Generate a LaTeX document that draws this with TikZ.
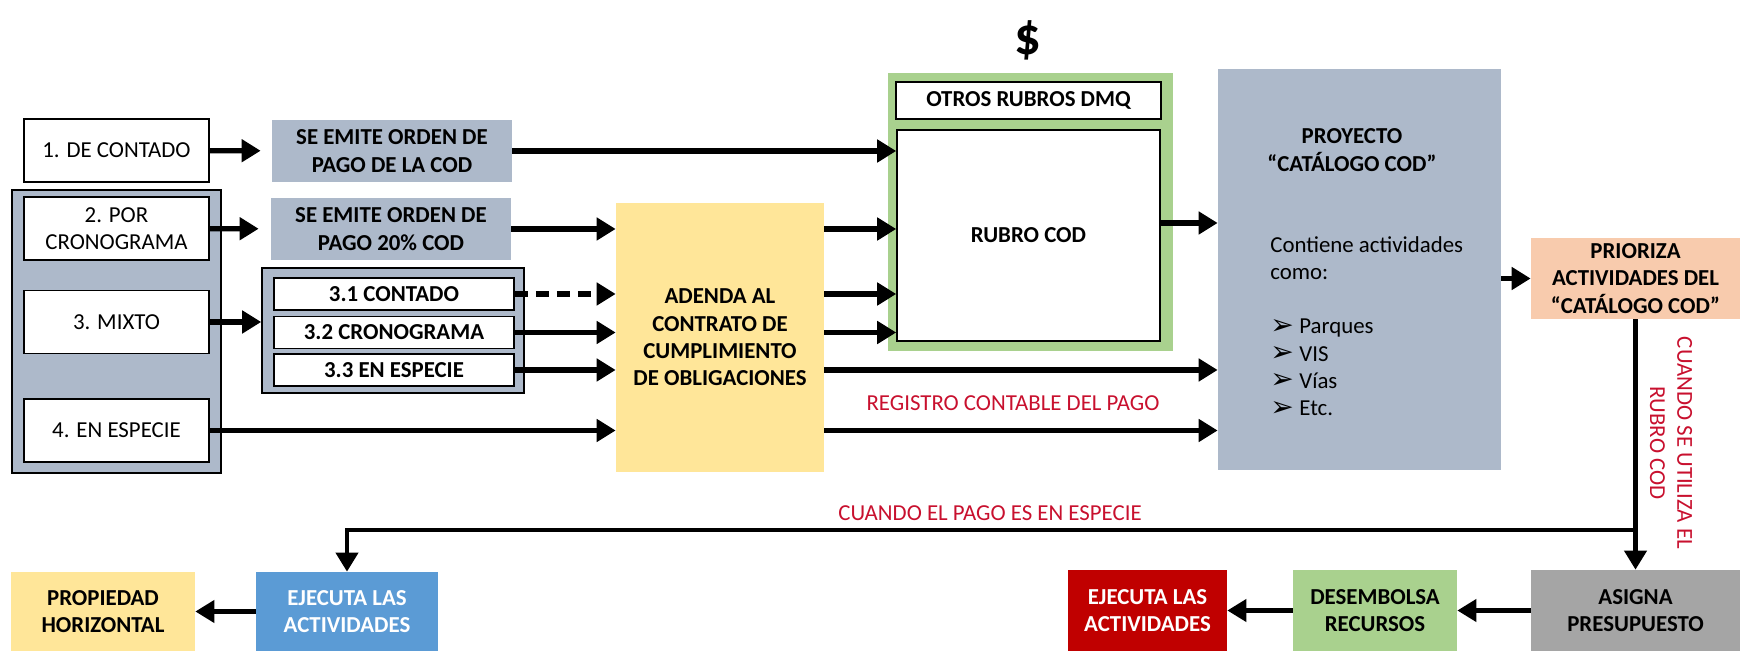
\documentclass[tikz,border=0pt]{standalone}
\usepackage{fontspec}
\setmainfont{Carlito}
\newfontfamily\symfont{DejaVu Sans}
\usepackage{xcolor}
\usepackage{tikz}
\usetikzlibrary{arrows.meta}

\definecolor{grisazul}{HTML}{ADB9CA}
\definecolor{amarillo}{HTML}{FFE699}
\definecolor{verde}{HTML}{A9D18E}
\definecolor{salmon}{HTML}{F8CBAD}
\definecolor{gris}{HTML}{A5A5A5}
\definecolor{rojo}{HTML}{C00000}
\definecolor{azul}{HTML}{5B9BD5}
\definecolor{rojotxt}{HTML}{C8102E}

\newcommand{\vineta}{\makebox[5.8mm][l]{\raisebox{-0.3pt}{\symfont\fontsize{16}{12}\selectfont ➢}}}

\begin{document}
\begin{tikzpicture}[x=0.2mm, y=-0.2mm,
        txt/.style={font=\fontsize{13}{15.5}\selectfont},
        negrita/.style={font=\fontsize{13}{15.5}\selectfont\bfseries},
        caja/.style={draw, line width=0.9pt, align=center, inner sep=0pt},
        tipo/.style={caja, txt, fill=white, minimum width=37mm, minimum height=12.6mm},
        parte/.style={caja, negrita, fill=white, minimum width=48mm, minimum height=6.4mm},
        fase/.style={negrita, align=center, inner sep=0pt},
        nota/.style={txt, text=rojotxt, align=center, inner sep=0pt},
        flow/.style={-{Triangle[length=3.8mm, width=4.4mm]}, line width=3pt},
        flujo/.style={flow, line width=2.4pt}
    ]
        \useasboundingbox (0,0) rectangle (1744,651);
        \node[caja, fill=grisazul, minimum width=41.8mm, minimum height=56.6mm] (tipos) at (116.5,331.5) {};
        \node[tipo] (contado) at (116.5,150.5) {1. DE CONTADO};
        \node[tipo] (crono) at (116.5,228.5) {2. POR\\CRONOGRAMA};
        \node[tipo] (mixto) at (116.5,322) {3. MIXTO};
        \node[tipo] (especie) at (116.5,430.5) {4. EN ESPECIE};
        \node[fase, fill=grisazul, minimum width=48mm, minimum height=12.4mm] (orden1) at (392,151)
            {SE EMITE ORDEN DE\\PAGO DE LA COD};
        \node[fase, fill=grisazul, minimum width=48mm, minimum height=12.4mm] (orden2) at (391,229)
            {SE EMITE ORDEN DE\\PAGO 20\% COD};
        \node[caja, fill=grisazul, minimum width=52.4mm, minimum height=25mm] (mixtos) at (393,330.5) {};
        \node[parte] (m1) at (394,294) {3.1 CONTADO};
        \node[parte] (m2) at (394,332.5) {3.2 CRONOGRAMA};
        \node[parte] (m3) at (394,370) {3.3 EN ESPECIE};
        \node[fase, fill=amarillo, minimum width=41.6mm, minimum height=53.8mm] (adenda) at (720,337.5)
            {ADENDA AL\\CONTRATO DE\\CUMPLIMIENTO\\DE OBLIGACIONES};
        \node[fill=verde, minimum width=57mm, minimum height=55.6mm] (marco) at (1030.5,212) {};
        \node[caja, negrita, fill=white, minimum width=53mm, minimum height=7.4mm] (otros) at (1028.5,100.5)
            {OTROS RUBROS DMQ};
        \node[caja, negrita, fill=white, minimum width=52.6mm, minimum height=42.2mm] (rubro) at (1028.5,235.5)
            {RUBRO COD};
        \node[font=\fontsize{30}{30}\selectfont\bfseries] (dolar) at (1028,40) {\$};
        \node[fill=grisazul, minimum width=56.6mm, minimum height=80.2mm] (proyecto) at (1359.5,269.5) {};
        \node[fase] (proytit) at (1352,150) {PROYECTO\\“CATÁLOGO COD”};
        \node[txt, anchor=north west, align=left, inner sep=0pt] (proytxt) at (1270,236)
            {Contiene actividades\\como:\\[15.5pt]
             \vineta Parques\\
             \vineta VIS\\
             \vineta Vías\\
             \vineta Etc.};
        \node[fase, fill=salmon, minimum width=41.8mm, minimum height=16.2mm] (prioriza) at (1635.5,278.5)
            {PRIORIZA\\ACTIVIDADES DEL\\“CATÁLOGO COD”};
        \node[fase, fill=gris, minimum width=41.8mm, minimum height=16.2mm] (asigna) at (1635.5,610.5)
            {ASIGNA\\PRESUPUESTO};
        \node[fase, fill=verde, minimum width=32.8mm, minimum height=16.2mm] (desembolsa) at (1375,610.5)
            {DESEMBOLSA\\RECURSOS};
        \node[fase, fill=rojo, text=white, minimum width=31.8mm, minimum height=16.2mm] (ejecuta) at (1147.5,610.5)
            {EJECUTA LAS\\ACTIVIDADES};
        \node[fase, fill=azul, text=white, minimum width=36.4mm, minimum height=15.8mm] (ejecutaph) at (347,611.5)
            {EJECUTA LAS\\ACTIVIDADES};
        \node[fase, fill=amarillo, minimum width=36.8mm, minimum height=15.8mm] (propiedad) at (103,611.5)
            {PROPIEDAD\\HORIZONTAL};
        \node[nota] (registro) at (1013,403) {REGISTRO CONTABLE DEL PAGO};
        \node[nota] (notaespecie) at (990,513) {CUANDO EL PAGO ES EN ESPECIE};
        \node[nota, rotate=-90] (notarubro) at (1671,443) {CUANDO SE UTILIZA EL\\RUBRO COD};
        \coordinate (cruce) at (1635.5,530);
        \draw[flow, shorten >=2.2mm] (contado) -- (orden1);
        \draw[flow, shorten >=2.4mm] (crono) -- (orden2);
        \draw[flow] (mixto) -- (mixto -| mixtos.west);
        \draw[flow] (orden1) -- (orden1 -| rubro.west);
        \draw[flow] (orden2) -- (orden2 -| adenda.west);
        \draw[flow, dash pattern=on 2.6mm off 1.6mm] (m1) -- (m1 -| adenda.west);
        \draw[flow] (m2) -- (m2 -| adenda.west);
        \draw[flow] (m3) -- (m3 -| adenda.west);
        \draw[flow] (especie) -- (especie -| adenda.west);
        \draw[flow] (adenda.east |- orden2) -- (rubro.west |- orden2);
        \draw[flow] (adenda.east |- m1) -- (rubro.west |- m1);
        \draw[flow] (adenda.east |- m2) -- (rubro.west |- m2);
        \draw[flow] (adenda.east |- m3) -- (proyecto.west |- m3);
        \draw[flow] (adenda.east |- especie) -- (proyecto.west |- especie);
        \draw[flow] ([yshift=2.5mm]rubro.east) -- ([yshift=2.5mm]rubro.east -| proyecto.west);
        \draw[flow] (proyecto.east |- prioriza) -- (prioriza);
        \draw[flujo] (prioriza) -- (asigna);
        \draw[flujo] (cruce) -| (ejecutaph);
        \draw[flujo] (asigna) -- (desembolsa);
        \draw[flujo] (desembolsa) -- (ejecuta);
        \draw[flujo] (ejecutaph) -- (propiedad);
    \end{tikzpicture}
\end{document}
